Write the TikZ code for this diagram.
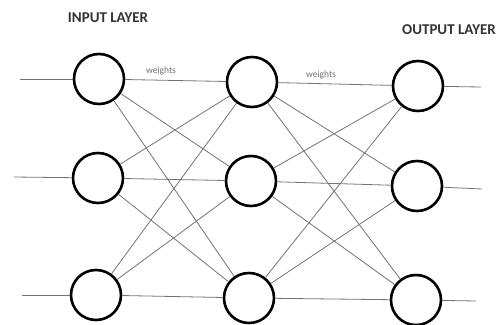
\documentclass[tikz,border=0pt]{standalone}
\usepackage{fontspec}
\setmainfont{Carlito}
\begin{document}
\begin{tikzpicture}[x=1pt,y=-1pt,
  neuron/.style={circle,draw=black,line width=2.6pt,minimum size=50pt,inner sep=0pt,fill=white},
  link/.style={draw=black!55,line width=0.8pt},
  layerlabel/.style={font=\bfseries\fontsize{15}{17}\selectfont,text=black!80},
  wlabel/.style={font=\fontsize{9.5}{11}\selectfont,text=black!55}]
\useasboundingbox (0,0) rectangle (503,324);
% coordinates for free ends
\coordinate (in1) at (20,79);
\coordinate (in2) at (14,177);
\coordinate (in3) at (22,295);
\coordinate (out1) at (481,87);
\coordinate (out2) at (482,189);
\coordinate (out3) at (476,301);
% neurons
\node[neuron] (a1) at (99,79) {};
\node[neuron] (a2) at (98,178) {};
\node[neuron] (a3) at (96,295) {};
\node[neuron] (b1) at (252,82) {};
\node[neuron] (b2) at (251,181) {};
\node[neuron] (b3) at (249,298) {};
\node[neuron] (c1) at (418,86) {};
\node[neuron] (c2) at (417,186) {};
\node[neuron] (c3) at (416,300) {};
% connections
\foreach \i in {1,2,3}{
  \foreach \j in {1,2,3}{
    \draw[link] (a\i) -- (b\j);
    \draw[link] (b\i) -- (c\j);
  }
}
\draw[link] (in1) -- (a1);
\draw[link] (in2) -- (a2);
\draw[link] (in3) -- (a3);
\draw[link] (c1) -- (out1);
\draw[link] (c2) -- (out2);
\draw[link] (c3) -- (out3);
% labels
\node[layerlabel] (lin) at (108,18) {INPUT LAYER};
\node[layerlabel] (lout) at (449,30) {OUTPUT LAYER};
\node[wlabel] (w1) at (161,71) {weights};
\node[wlabel] (w2) at (321,75) {weights};
\end{tikzpicture}
\end{document}
